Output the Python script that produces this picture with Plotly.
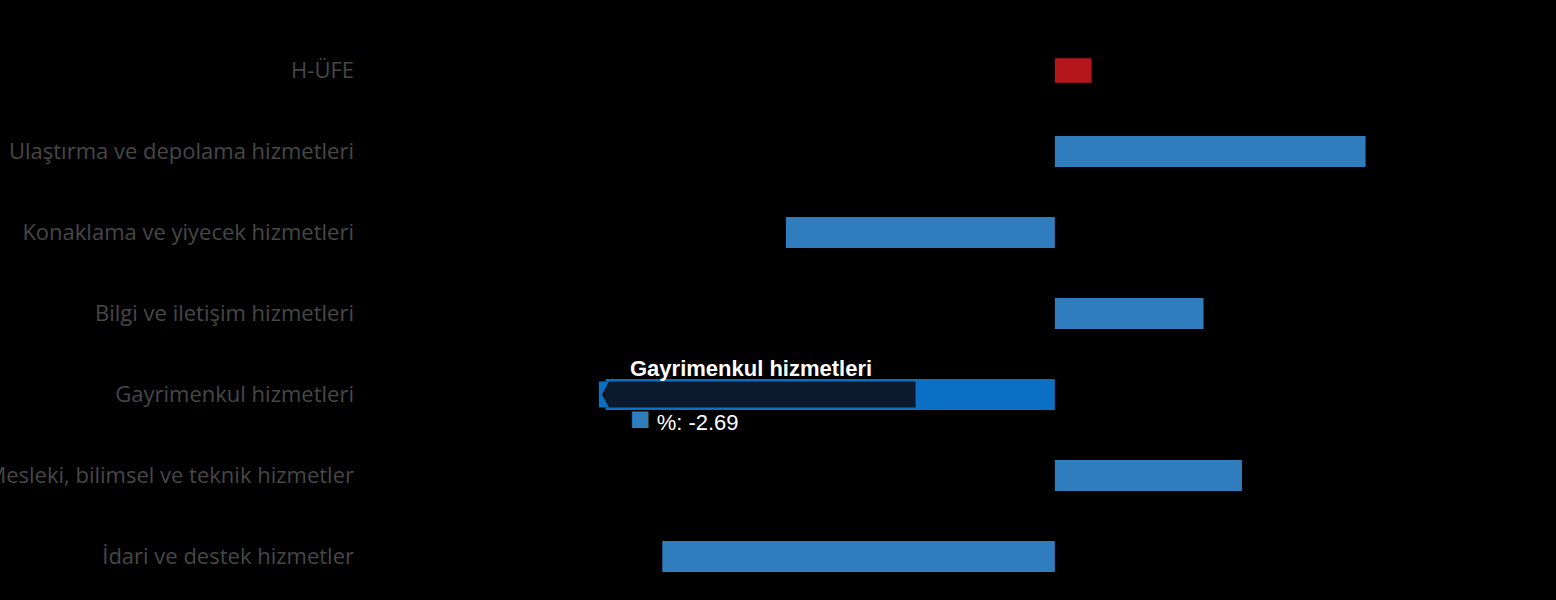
import plotly.graph_objects as go

categories = [
    "H-ÜFE",
    "Ulaştırma ve depolama hizmetleri",
    "Konaklama ve yiyecek hizmetleri",
    "Bilgi ve iletişim hizmetleri",
    "Gayrimenkul hizmetleri",
    "Mesleki, bilimsel ve teknik hizmetler",
    "İdari ve destek hizmetler",
]
values = [0.22, 1.86, -1.61, 0.89, -2.69, 1.12, -2.35]
bar_colors = ["#b5161b", "#2f7dbd", "#2f7dbd", "#2f7dbd", "#0b6fc4", "#2f7dbd", "#2f7dbd"]
bar_widths = [0.3, 0.38, 0.38, 0.38, 0.38, 0.38, 0.38]
hover_index = 4
value_label = "%"

fig = go.Figure()
fig.add_trace(go.Bar(
    y=categories, x=values, orientation="h",
    marker=dict(color=bar_colors, line=dict(width=0)),
    width=bar_widths,
    hoverinfo="skip",
))

hv = values[hover_index]
hc = categories[hover_index]
# tooltip band over the hovered bar
fig.add_shape(type="rect", xref="x", yref="y",
              x0=hv, x1=hv * 0.31, y0=hover_index - 0.16, y1=hover_index + 0.16,
              fillcolor="#0b1a2c", line=dict(width=0), layer="above")
fig.add_shape(type="path", xref="x", yref="y",
              path=f"M {hv - 0.04} {hover_index - 0.16} L {hv + 0.02} {hover_index - 0.16} L {hv - 0.02} {hover_index} L {hv + 0.02} {hover_index + 0.16} L {hv - 0.04} {hover_index + 0.16} Z",
              fillcolor="#0b6fc4", line=dict(width=0), layer="above")
fig.add_annotation(x=hv, y=hover_index, xref="x", yref="y",
                   text=f"<b>{hc}</b>", showarrow=False,
                   xanchor="left", yanchor="bottom", xshift=22, yshift=12,
                   font=dict(family="Liberation Sans, Arial", size=22, color="white"))
fig.add_annotation(x=hv, y=hover_index, xref="x", yref="y",
                   text=f"<span style='color:#2f7dbd;font-size:34px'>■</span> {value_label}: {hv:.2f}", showarrow=False,
                   xanchor="left", yanchor="top", xshift=22, yshift=-2,
                   font=dict(family="Liberation Sans, Arial", size=22, color="white"))

fig.update_layout(
    width=1556, height=600,
    paper_bgcolor="black", plot_bgcolor="black",
    margin=dict(l=370, r=0, t=30, b=3),
    showlegend=False,
    bargap=0.6,
    xaxis=dict(range=[-4.1, 3.0], showgrid=False, zeroline=False,
               showticklabels=False, showline=False, automargin=False),
    yaxis=dict(autorange="reversed", showgrid=False, zeroline=False,
               showline=False, ticks="", ticklabelstandoff=15, automargin=False,
               tickfont=dict(family="Open Sans", size=22, color="#474747")),
)

fig.write_html(
    "out.html",
    config={"displayModeBar": False},
    post_script="document.body.style.margin='0';document.body.style.background='black';document.documentElement.style.background='black';",
)
